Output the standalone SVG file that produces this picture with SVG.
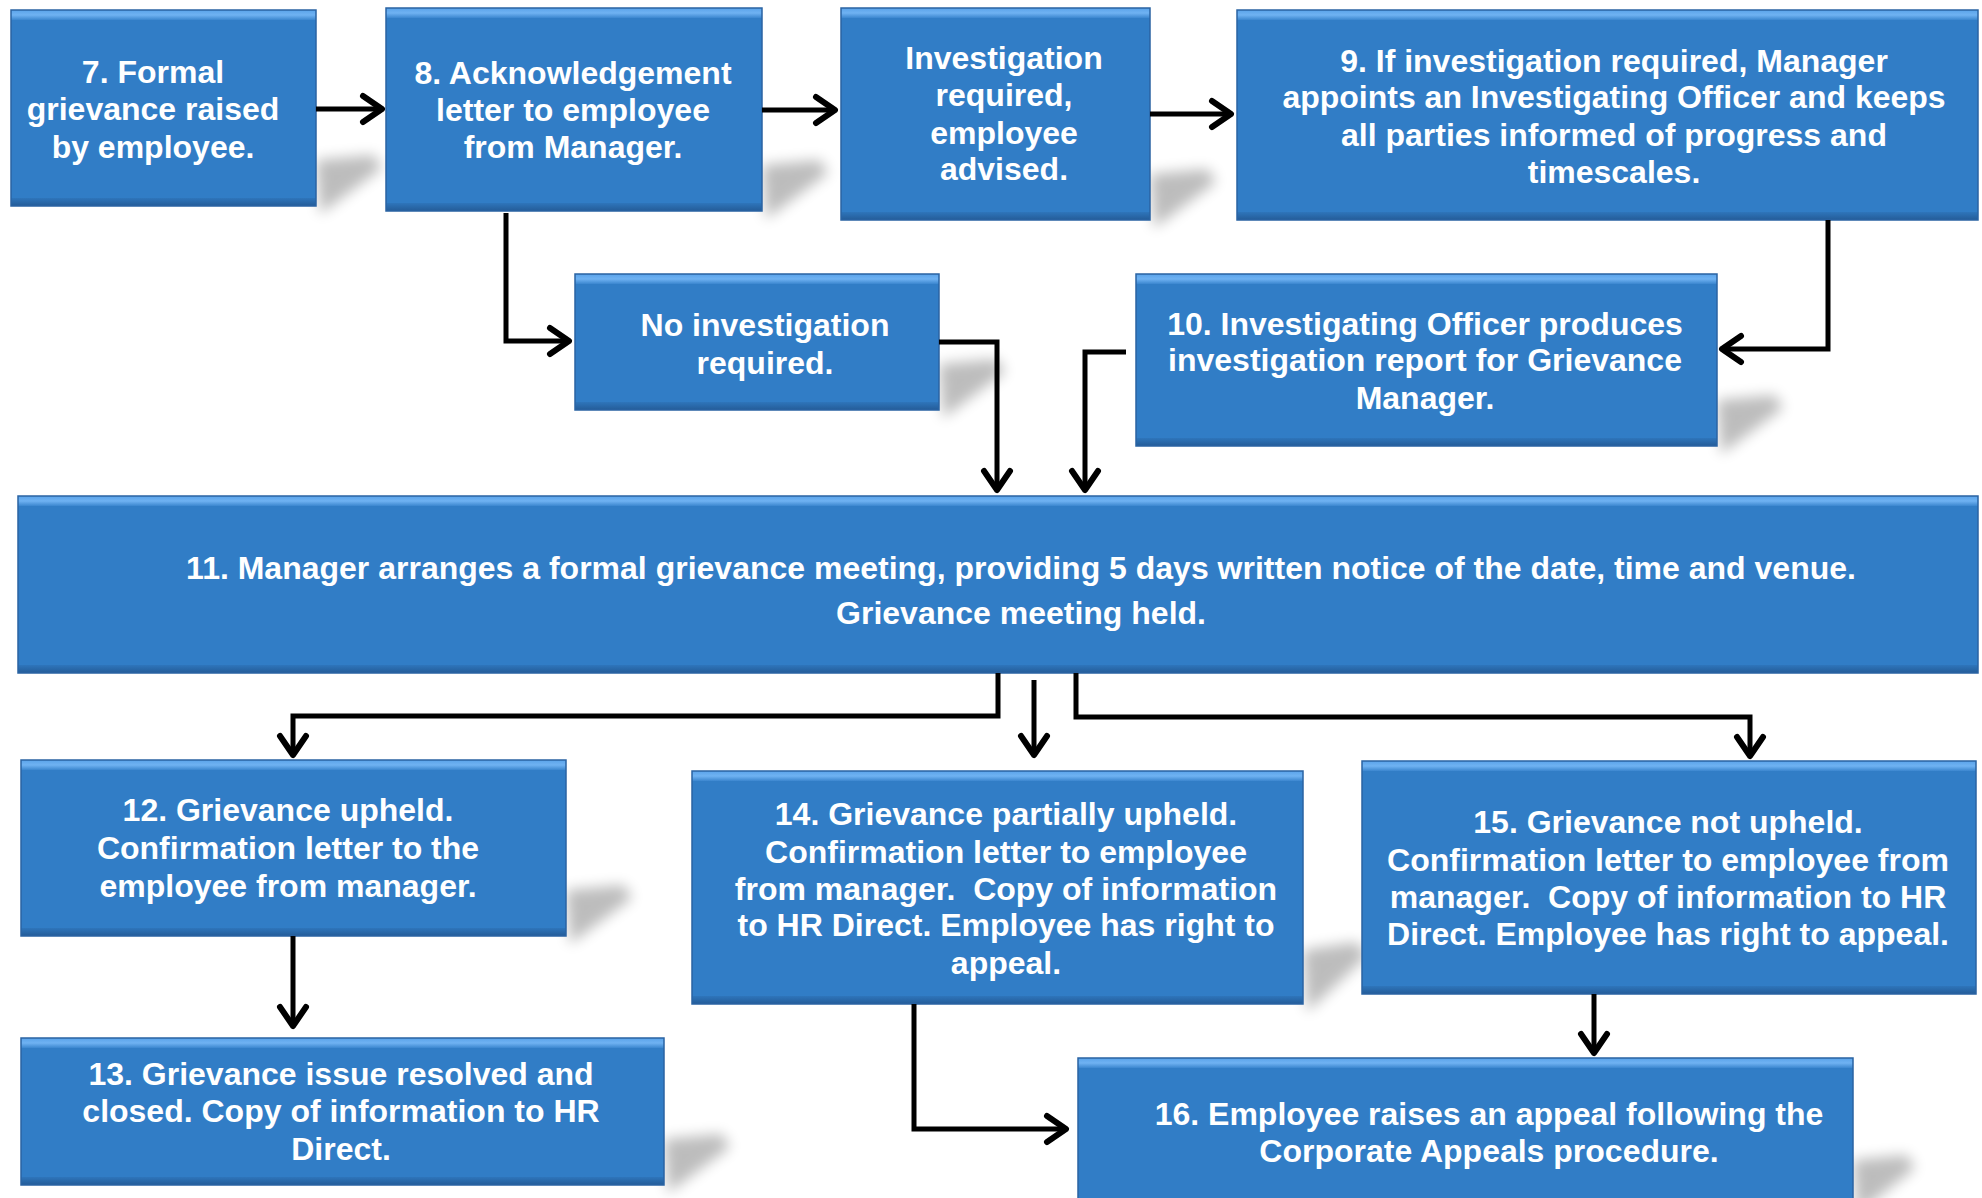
<svg xmlns="http://www.w3.org/2000/svg" width="1982" height="1198" viewBox="0 0 1982 1198">
<defs>
<style>
.box{fill:#317dc6;}
.edge{fill:none;stroke:#2a63a3;stroke-width:1.5;}
.tb{fill:url(#top);}
.bb{fill:url(#bot);}
.sh{fill:#000;opacity:0.26;filter:url(#blur);}
.t{font-family:"Liberation Sans",Arial,sans-serif;font-weight:bold;font-size:32px;fill:#fff;text-anchor:middle;white-space:pre;}
.c{fill:none;stroke:#000;stroke-width:5;stroke-linejoin:miter;marker-end:url(#ah);}
</style>
<linearGradient id="top" x1="0" y1="0" x2="0" y2="1">
<stop offset="0" stop-color="#5aa3ea"/>
<stop offset="0.5" stop-color="#6fb2f2"/>
<stop offset="1" stop-color="#3b86cf"/>
</linearGradient>
<linearGradient id="bot" x1="0" y1="0" x2="0" y2="1">
<stop offset="0" stop-color="#2e75bb"/>
<stop offset="1" stop-color="#245c98"/>
</linearGradient>
<filter id="blur" x="-50%" y="-50%" width="200%" height="200%">
<feGaussianBlur stdDeviation="7"/>
</filter>
<marker id="ah" markerUnits="userSpaceOnUse" markerWidth="40" markerHeight="40" viewBox="-30 -20 40 40" refX="0" refY="0" orient="auto" overflow="visible">
<path d="M-19,-13 L0,0 L-19,13" fill="none" stroke="#000" stroke-width="6" stroke-linecap="round" stroke-linejoin="round"/>
</marker>
</defs>
<rect width="1982" height="1198" fill="#fff"/>

<g id="shadows">
<polygon class="sh" points="316,160 374,155 382,168 320,214"/>
<polygon class="sh" points="762,165 820,160 828,173 766,219"/>
<polygon class="sh" points="1150,174 1208,169 1216,182 1154,228"/>
<polygon class="sh" points="939,364 997,359 1005,372 943,418"/>
<polygon class="sh" points="1717,400 1775,395 1783,408 1721,454"/>
<polygon class="sh" points="566,890 624,885 632,898 570,944"/>
<polygon class="sh" points="1303,950 1357,942 1367,956 1307,1012"/>
<polygon class="sh" points="664,1139 722,1134 730,1147 668,1193"/>
<polygon class="sh" points="1853,1160 1907,1155 1915,1168 1857,1214"/>
</g>

<g id="n7">
<rect class="box" x="11" y="10" width="305" height="196"/>
<rect class="tb" x="11" y="10" width="305" height="10"/>
<rect class="bb" x="11" y="198" width="305" height="8"/>
<rect class="edge" x="11" y="10" width="305" height="196"/>
<text class="t"><tspan x="153" y="83">7. Formal</tspan><tspan x="153" y="120">grievance raised</tspan><tspan x="153" y="158">by employee.</tspan></text>
</g>
<g id="n8">
<rect class="box" x="386" y="8" width="376" height="203"/>
<rect class="tb" x="386" y="8" width="376" height="10"/>
<rect class="bb" x="386" y="203" width="376" height="8"/>
<rect class="edge" x="386" y="8" width="376" height="203"/>
<text class="t"><tspan x="573" y="84">8. Acknowledgement</tspan><tspan x="573" y="121">letter to employee</tspan><tspan x="573" y="158">from Manager.</tspan></text>
</g>
<g id="ninv">
<rect class="box" x="841" y="8" width="309" height="212"/>
<rect class="tb" x="841" y="8" width="309" height="10"/>
<rect class="bb" x="841" y="212" width="309" height="8"/>
<rect class="edge" x="841" y="8" width="309" height="212"/>
<text class="t"><tspan x="1004" y="69">Investigation</tspan><tspan x="1004" y="106">required,</tspan><tspan x="1004" y="144">employee</tspan><tspan x="1004" y="180">advised.</tspan></text>
</g>
<g id="n9">
<rect class="box" x="1237" y="10" width="741" height="210"/>
<rect class="tb" x="1237" y="10" width="741" height="10"/>
<rect class="bb" x="1237" y="212" width="741" height="8"/>
<rect class="edge" x="1237" y="10" width="741" height="210"/>
<text class="t"><tspan x="1614" y="72">9. If investigation required, Manager</tspan><tspan x="1614" y="108">appoints an Investigating Officer and keeps</tspan><tspan x="1614" y="146">all parties informed of progress and</tspan><tspan x="1614" y="183">timescales.</tspan></text>
</g>
<g id="nnoinv">
<rect class="box" x="575" y="274" width="364" height="136"/>
<rect class="tb" x="575" y="274" width="364" height="10"/>
<rect class="bb" x="575" y="402" width="364" height="8"/>
<rect class="edge" x="575" y="274" width="364" height="136"/>
<text class="t"><tspan x="765" y="336">No investigation</tspan><tspan x="765" y="374">required.</tspan></text>
</g>
<g id="n10">
<rect class="box" x="1136" y="274" width="581" height="172"/>
<rect class="tb" x="1136" y="274" width="581" height="10"/>
<rect class="bb" x="1136" y="438" width="581" height="8"/>
<rect class="edge" x="1136" y="274" width="581" height="172"/>
<text class="t"><tspan x="1425" y="335">10. Investigating Officer produces</tspan><tspan x="1425" y="371">investigation report for Grievance</tspan><tspan x="1425" y="409">Manager.</tspan></text>
</g>
<g id="n11">
<rect class="box" x="18" y="496" width="1960" height="177"/>
<rect class="tb" x="18" y="496" width="1960" height="10"/>
<rect class="bb" x="18" y="665" width="1960" height="8"/>
<rect class="edge" x="18" y="496" width="1960" height="177"/>
<text class="t"><tspan x="1021" y="579">11. Manager arranges a formal grievance meeting, providing 5 days written notice of the date, time and venue.</tspan><tspan x="1021" y="624">Grievance meeting held.</tspan></text>
</g>
<g id="n12">
<rect class="box" x="21" y="760" width="545" height="176"/>
<rect class="tb" x="21" y="760" width="545" height="10"/>
<rect class="bb" x="21" y="928" width="545" height="8"/>
<rect class="edge" x="21" y="760" width="545" height="176"/>
<text class="t"><tspan x="288" y="821">12. Grievance upheld.</tspan><tspan x="288" y="859">Confirmation letter to the</tspan><tspan x="288" y="897">employee from manager.</tspan></text>
</g>
<g id="n14">
<rect class="box" x="692" y="771" width="611" height="233"/>
<rect class="tb" x="692" y="771" width="611" height="10"/>
<rect class="bb" x="692" y="996" width="611" height="8"/>
<rect class="edge" x="692" y="771" width="611" height="233"/>
<text class="t"><tspan x="1006" y="825">14. Grievance partially upheld.</tspan><tspan x="1006" y="863">Confirmation letter to employee</tspan><tspan x="1006" y="900">from manager.  Copy of information</tspan><tspan x="1006" y="936">to HR Direct. Employee has right to</tspan><tspan x="1006" y="974">appeal.</tspan></text>
</g>
<g id="n15">
<rect class="box" x="1362" y="761" width="614" height="233"/>
<rect class="tb" x="1362" y="761" width="614" height="10"/>
<rect class="bb" x="1362" y="986" width="614" height="8"/>
<rect class="edge" x="1362" y="761" width="614" height="233"/>
<text class="t"><tspan x="1668" y="833">15. Grievance not upheld.</tspan><tspan x="1668" y="871">Confirmation letter to employee from</tspan><tspan x="1668" y="908">manager.  Copy of information to HR</tspan><tspan x="1668" y="945">Direct. Employee has right to appeal.</tspan></text>
</g>
<g id="n13">
<rect class="box" x="21" y="1038" width="643" height="147"/>
<rect class="tb" x="21" y="1038" width="643" height="10"/>
<rect class="bb" x="21" y="1177" width="643" height="8"/>
<rect class="edge" x="21" y="1038" width="643" height="147"/>
<text class="t"><tspan x="341" y="1085">13. Grievance issue resolved and</tspan><tspan x="341" y="1122">closed. Copy of information to HR</tspan><tspan x="341" y="1160">Direct.</tspan></text>
</g>
<g id="n16">
<rect class="box" x="1078" y="1058" width="775" height="160"/>
<rect class="tb" x="1078" y="1058" width="775" height="10"/>
<rect class="edge" x="1078" y="1058" width="775" height="160"/>
<text class="t"><tspan x="1489" y="1125">16. Employee raises an appeal following the</tspan><tspan x="1489" y="1162">Corporate Appeals procedure.</tspan></text>
</g>

<g id="connectors">
<path class="c" d="M316,109 H382"/>
<path class="c" d="M762,110 H835"/>
<path class="c" d="M1150,114 H1231"/>
<path class="c" d="M506,213 V341 H569"/>
<path class="c" d="M1828,220 V349 H1722"/>
<path class="c" d="M939,342 H997 V490"/>
<path class="c" d="M1126,352 H1085 V490"/>
<path class="c" d="M998,673 V716 H293 V755"/>
<path class="c" d="M1034,680 V755"/>
<path class="c" d="M1076,673 V717 H1750 V756"/>
<path class="c" d="M293,936 V1026"/>
<path class="c" d="M914,1004 V1129 H1066"/>
<path class="c" d="M1594,994 V1053"/>
</g>
</svg>
